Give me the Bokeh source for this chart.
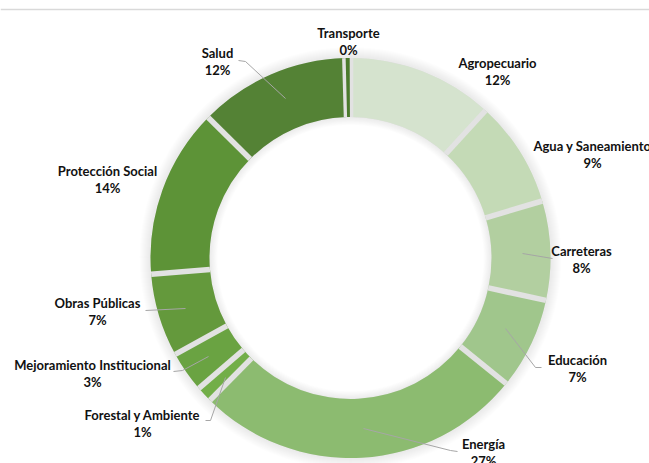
import numpy as np
from bokeh.plotting import figure
from bokeh.models import Span, ColumnDataSource
from bokeh.core.properties import value
from bokeh.embed import file_html
from bokeh.resources import INLINE

# ---- data ----
categories = ["Agropecuario", "Agua y Saneamiento", "Carreteras", "Educación", "Energía",
              "Forestal y Ambiente", "Mejoramiento Institucional", "Obras Públicas",
              "Protección Social", "Salud", "Transporte"]
shares = [11.8, 8.6, 8.0, 7.4, 26.6, 1.3, 3.3, 6.7, 13.7, 12.15, 0.45]
pct_labels = ["12%", "9%", "8%", "7%", "27%", "1%", "3%", "7%", "14%", "12%", "0%"]
colors = ["#d5e3ce", "#c4dab6", "#b2cfa0", "#a0c68c", "#8cbb70",
          "#72ae48", "#6aa342", "#64993c", "#5d9337", "#548235", "#4b7a2d"]

# ---- layout (pixel positions in page coordinates) ----
W, H = 649, 463
CX, CY = 350, 257.5
R_IN, R_OUT = 141, 200
label_pos = [(497, 62), (592, 145), (581, 250), (577, 359), (483, 443),
             (142, 414), (92, 364), (97, 302), (107, 170), (217, 52), (348, 32)]
leaders = [None, None,
           [(522, 253), (552, 258)],
           [(505, 328), (535, 367), (541, 367)],
           [(363, 428), (450, 450), (457, 451)],
           [(225, 377), (210, 420), (205, 420)],
           [(208, 356), (182, 370), (173, 371)],
           [(185, 308), (145, 310)],
           None,
           [(285, 98), (245, 61), (238, 60)],
           None]

def px(x):
    return x - CX

def py(y):
    return CY - y

p = figure(width=W, height=H, x_range=(px(0), px(W)), y_range=(py(H), py(0)),
           output_backend="svg", toolbar_location=None, min_border=0)
p.axis.visible = False
p.grid.visible = False
p.outline_line_color = None
p.background_fill_color = "white"

# soft shadow glow
for k in range(10):
    p.annular_wedge(x=0, y=0, inner_radius=R_IN - 8 + k * 0.8, outer_radius=R_OUT + 11 - k,
                    start_angle=0, end_angle=2 * np.pi, fill_color="#000000",
                    fill_alpha=0.007, line_color=None)
p.annular_wedge(x=0, y=0, inner_radius=R_IN, outer_radius=R_OUT, start_angle=0,
                end_angle=2 * np.pi, fill_color="#dedede", line_color=None)

vals = np.array(shares) / sum(shares)
cum = np.concatenate([[0], np.cumsum(vals)])
starts = np.pi / 2 - cum[1:] * 2 * np.pi
ends = np.pi / 2 - cum[:-1] * 2 * np.pi
src = ColumnDataSource(dict(start=starts, end=ends, color=colors, cat=categories))
p.annular_wedge(x=0, y=0, inner_radius=R_IN, outer_radius=R_OUT, start_angle="start",
                end_angle="end", fill_color="color", line_color=None, source=src)

# gaps between slices
b_ang = np.pi / 2 - cum[:-1] * 2 * np.pi
p.segment(x0=R_IN * np.cos(b_ang), y0=R_IN * np.sin(b_ang),
          x1=R_OUT * np.cos(b_ang), y1=R_OUT * np.sin(b_ang),
          line_color="#e2e2e2", line_width=5.5)

# keep the very thin last slice visible on top of its gaps
p.annular_wedge(x=0, y=0, inner_radius=R_IN, outer_radius=R_OUT,
                start_angle=starts[-1] + 0.004, end_angle=ends[-1] - 0.004,
                fill_color=colors[-1], line_color=None)

# leader lines
xs, ys = [], []
for ld in leaders:
    if ld:
        xs.append([px(a) for a, b in ld])
        ys.append([py(b) for a, b in ld])
p.multi_line(xs=xs, ys=ys, line_color="#a6a6a6", line_width=1)

# labels
lx = [px(a) for a, b in label_pos]
ly1 = [py(b) for a, b in label_pos]
ly2 = [py(b + 17) for a, b in label_pos]
for ly, txt in ((ly1, categories), (ly2, pct_labels)):
    p.text(x=lx, y=ly, text=txt, text_font=value("Lato"), text_font_style="bold",
           text_font_size="13px", text_color="#111111", text_align="center",
           text_baseline="middle")

p.add_layout(Span(location=py(9), dimension="width", line_color="#d9d9d9", line_width=1.5))

open("out.html", "w").write(file_html(p, INLINE))
